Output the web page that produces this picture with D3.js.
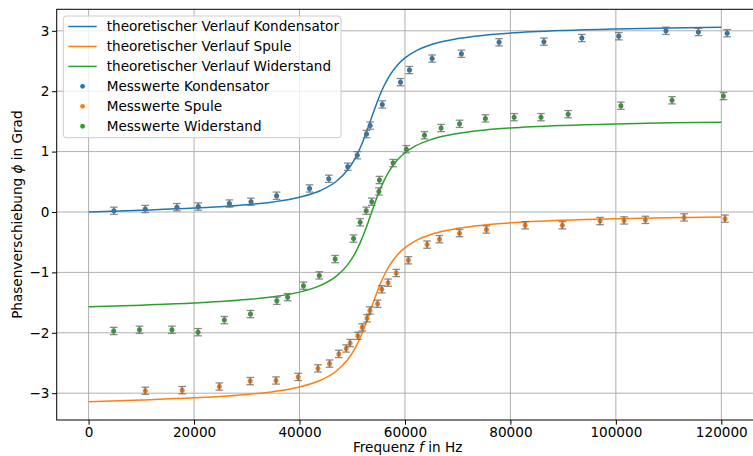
<!DOCTYPE html>
<html lang="de">
<head>
  <meta charset="UTF-8">
  <title>Phasenverschiebung</title>
  <script src="https://d3js.org/d3.v7.min.js"></script>
  <style>
    body { margin: 0; background: #fff; }
    text { font-family: "DejaVu Sans", sans-serif; font-size: 13.6px; fill: #000; }
    .grid line { stroke: #b0b0b0; stroke-width: 1; }
  </style>
</head>
<body>
  <svg width="753" height="456"></svg>

  <script>
    // theoretical curves
    const theoFreq = [0, 10000, 20000, 30000, 35000, 40000, 44000, 47000, 49000, 50500, 51500, 52500, 53200, 53700,
      54200, 54900, 55900, 57000, 58500, 60000, 62000, 65000, 70000, 75000, 80000, 90000, 100000, 110000, 120000];
    const theoKondensator = [0, 0.0287, 0.0643, 0.1204, 0.1672, 0.2443, 0.3558, 0.5086, 0.6824, 0.8806, 1.0590, 1.2762, 1.4459, 1.5708,
      1.6946, 1.8599, 2.0653, 2.2461, 2.4260, 2.5510, 2.6645, 2.7719, 2.8707, 2.9261, 2.9616, 3.0045, 3.0297, 3.0464, 3.0584];
    const theoSpule = [-3.1416, -3.1129, -3.0773, -3.0212, -2.9744, -2.8973, -2.7858, -2.6330, -2.4592, -2.2610, -2.0826, -1.8654, -1.6957, -1.5708,
      -1.4470, -1.2817, -1.0763, -0.8955, -0.7156, -0.5906, -0.4771, -0.3697, -0.2709, -0.2155, -0.1800, -0.1371, -0.1119, -0.0952, -0.0832];
    const theoWiderstand = [-1.5708, -1.5421, -1.5065, -1.4504, -1.4036, -1.3265, -1.2150, -1.0622, -0.8884, -0.6902, -0.5118, -0.2946, -0.1249, 0,
      0.1238, 0.2891, 0.4945, 0.6753, 0.8552, 0.9802, 1.0937, 1.2011, 1.2999, 1.3553, 1.3908, 1.4337, 1.4589, 1.4756, 1.4876];

    // measurements
    const kondFreq = [4800, 10750, 16750, 20800, 26700, 30800, 35650, 41900, 45550, 49150, 50950, 52700, 53400, 55700,
      59150, 60850, 65150, 70700, 77850, 86350, 93550, 100550, 109500, 115650, 121100];
    const kondPhase = [0.02, 0.05, 0.08, 0.09, 0.14, 0.17, 0.27, 0.39, 0.55, 0.75, 0.94, 1.29, 1.43, 1.78,
      2.15, 2.35, 2.54, 2.62, 2.81, 2.82, 2.88, 2.91, 3.00, 2.98, 2.96];

    const spuleFreq = [10750, 17750, 24800, 30650, 35550, 39750, 43500, 45700, 47450, 48850, 49600, 51050, 51900, 52800, 53350,
      54800, 55600, 56800, 58350, 60650, 64200, 66550, 70350, 75450, 82800, 89850, 97000, 101550, 105600, 112950, 120700];
    const spulePhase = [-2.96, -2.95, -2.89, -2.80, -2.79, -2.73, -2.59, -2.51, -2.35, -2.26, -2.17, -2.05, -1.91, -1.76, -1.63,
      -1.52, -1.28, -1.17, -1.01, -0.80, -0.54, -0.45, -0.35, -0.29, -0.22, -0.22, -0.15, -0.14, -0.13, -0.09, -0.11];

    const widerFreq = [4750, 9650, 15800, 20750, 25750, 30700, 35700, 37750, 40750, 43750, 46750, 50250, 51500, 52650, 53700,
      55050, 55150, 57750, 60250, 63700, 66850, 70350, 75250, 80700, 85800, 90950, 100950, 110650, 120400];
    const widerPhase = [-1.97, -1.95, -1.95, -1.99, -1.79, -1.69, -1.47, -1.41, -1.22, -1.05, -0.78, -0.44, -0.17, 0.02, 0.17,
      0.34, 0.53, 0.81, 1.04, 1.27, 1.39, 1.46, 1.55, 1.57, 1.57, 1.62, 1.76, 1.85, 1.92];

    const phaseErr = 0.06;
    const xTicks = [0, 20000, 40000, 60000, 80000, 100000, 120000];
    const yTicks = [-3, -2, -1, 0, 1, 2, 3];

    const C = { blue: "#1f77b4", orange: "#ff7f0e", green: "#2ca02c" };

    const svg = d3.select("svg");
    const mLeft = 56.7, mRight = 758.5, mTop = 9.3, mBottom = 420;

    const x = d3.scaleLinear().domain([-6050, 127050]).range([mLeft, mRight]);
    const y = d3.scaleLinear().domain([-3.444, 3.356]).range([mBottom, mTop]);

    svg.append("rect").attr("width", 753).attr("height", 456).attr("fill", "#fff");

    // grid
    const grid = svg.append("g").attr("class", "grid");
    grid.selectAll(".gx").data(xTicks).enter().append("line")
      .attr("x1", d => x(d)).attr("x2", d => x(d)).attr("y1", mTop).attr("y2", mBottom);
    grid.selectAll(".gy").data(yTicks).enter().append("line")
      .attr("x1", mLeft).attr("x2", mRight).attr("y1", d => y(d)).attr("y2", d => y(d));

    // theory lines
    const line = d3.line().x(d => x(d[0])).y(d => y(d[1])).curve(d3.curveMonotoneX);
    [[theoKondensator, C.blue], [theoSpule, C.orange], [theoWiderstand, C.green]].forEach(([vals, col]) => {
      svg.append("path")
        .datum(theoFreq.map((f, i) => [f, vals[i]]))
        .attr("d", line)
        .attr("fill", "none")
        .attr("stroke", col)
        .attr("stroke-width", 1.5);
    });

    // measurements with error bars
    function drawPoints(freqs, vals, col) {
      const g = svg.append("g");
      const pts = freqs.map((f, i) => [f, vals[i]]);
      g.selectAll("circle").data(pts).enter().append("circle")
        .attr("cx", d => x(d[0])).attr("cy", d => y(d[1])).attr("r", 2.5).attr("fill", col);
      const eb = g.selectAll(".eb").data(pts).enter().append("g")
        .attr("stroke", "#6e6e6e").attr("stroke-opacity", 0.8);
      eb.append("line")
        .attr("stroke-width", 1.7)
        .attr("x1", d => x(d[0])).attr("x2", d => x(d[0]))
        .attr("y1", d => y(d[1] - phaseErr)).attr("y2", d => y(d[1] + phaseErr));
      [-phaseErr, phaseErr].forEach(e => {
        eb.append("line")
          .attr("stroke-width", 1.3)
          .attr("x1", d => x(d[0]) - 3.8).attr("x2", d => x(d[0]) + 3.8)
          .attr("y1", d => y(d[1] + e)).attr("y2", d => y(d[1] + e));
      });
    }
    drawPoints(kondFreq, kondPhase, C.blue);
    drawPoints(spuleFreq, spulePhase, C.orange);
    drawPoints(widerFreq, widerPhase, C.green);

    // spines
    svg.append("rect").attr("x", mLeft).attr("y", mTop)
      .attr("width", mRight - mLeft).attr("height", mBottom - mTop)
      .attr("fill", "none").attr("stroke", "#000").attr("stroke-width", 1);

    // ticks
    svg.append("g").attr("transform", `translate(0,${mBottom})`)
      .call(d3.axisBottom(x).tickValues(xTicks).tickFormat(d3.format("d")).tickSize(4.7).tickPadding(3))
      .call(g => g.select(".domain").remove())
      .call(g => g.selectAll("text").attr("font-size", null).attr("font-family", null));
    svg.append("g").attr("transform", `translate(${mLeft},0)`)
      .call(d3.axisLeft(y).tickValues(yTicks).tickFormat(d => d < 0 ? "\u2212" + Math.abs(d) : d).tickSize(4.7).tickPadding(2.5))
      .call(g => g.select(".domain").remove())
      .call(g => g.selectAll("text").attr("font-size", null).attr("font-family", null));

    // axis labels
    const xl = svg.append("text").attr("x", (mLeft + mRight) / 2).attr("y", 452).attr("text-anchor", "middle");
    xl.append("tspan").text("Frequenz ");
    xl.append("tspan").attr("font-style", "italic").text("f");
    xl.append("tspan").text(" in Hz");

    const yl = svg.append("text").attr("transform", `translate(22,${(mTop + mBottom) / 2}) rotate(-90)`).attr("text-anchor", "middle");
    yl.append("tspan").text("Phasenverschiebung ");
    yl.append("tspan").attr("font-style", "italic").text("\u03d5");
    yl.append("tspan").text(" in Grad");

    // legend
    const legendItems = [
      { label: "theoretischer Verlauf Kondensator", col: C.blue, type: "line" },
      { label: "theoretischer Verlauf Spule", col: C.orange, type: "line" },
      { label: "theoretischer Verlauf Widerstand", col: C.green, type: "line" },
      { label: "Messwerte Kondensator", col: C.blue, type: "dot" },
      { label: "Messwerte Spule", col: C.orange, type: "dot" },
      { label: "Messwerte Widerstand", col: C.green, type: "dot" }
    ];
    const lg = svg.append("g");
    lg.append("rect").attr("x", 63.3).attr("y", 16).attr("width", 277.7).attr("height", 121.7)
      .attr("rx", 3).attr("fill", "#fff").attr("fill-opacity", 0.8).attr("stroke", "#cccccc");
    legendItems.forEach((d, i) => {
      const cy = 26.5 + i * 19.95;
      if (d.type === "line") {
        lg.append("line").attr("x1", 68.3).attr("x2", 96.7).attr("y1", cy).attr("y2", cy)
          .attr("stroke", d.col).attr("stroke-width", 1.5);
      } else {
        lg.append("circle").attr("cx", 82.6).attr("cy", cy).attr("r", 2.4).attr("fill", d.col);
      }
      lg.append("text").attr("x", 106.7).attr("y", cy).attr("dy", "0.36em").text(d.label);
    });
  </script>
</body>
</html>
